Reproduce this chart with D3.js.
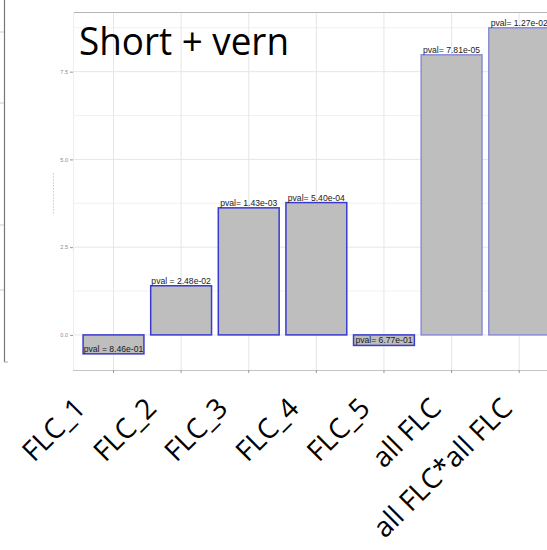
<!DOCTYPE html>
<html>
<head>
<meta charset="utf-8">
<script src="https://cdn.jsdelivr.net/npm/d3@7/dist/d3.min.js"></script>
<style>
  html, body { margin: 0; padding: 0; background: #fff; }
  svg { display: block; }
  .pval, .ytick { font-family: "Liberation Sans", Arial, sans-serif; }
  .title, .xlab { font-family: "Open Sans", "Noto Sans", sans-serif; }
</style>
</head>
<body>
<svg id="chart" width="547" height="550"></svg>
<script>
// ---- data ----
const categories = ["FLC_1", "FLC_2", "FLC_3", "FLC_4", "FLC_5", "all FLC", "all FLC*all FLC"];
const values = [-0.54, 1.40, 3.62, 3.77, -0.30, 7.98, 8.75];
const pvalLabels = ["pval = 8.46e-01", "pval = 2.48e-02", "pval= 1.43e-03", "pval= 5.40e-04",
                    "pval= 6.77e-01", "pval= 7.81e-05", "pval= 1.27e-02"];
const yTicks = [0, 2.5, 5, 7.5];
const yTickLabels = ["0.0", "2.5", "5.0", "7.5"];
const yMinor = [1.25, 3.75, 6.25, 8.75];
const titleText = "Short + vern";

const svg = d3.select("#chart");

// panel geometry
const panelLeft = 73, panelTop = 12, panelBottom = 370;

const x = d3.scaleBand()
  .domain(categories)
  .range([79.7, 553])
  .paddingInner(0.1)
  .paddingOuter(0.05);

const y = d3.scaleLinear().domain([-1.0, 9.2]).range([panelBottom, panelTop]);

// label placement scale (slide text labels beneath the axis)
const xLab = d3.scalePoint().domain(categories).range([87, 514]);

// ---- remnants of neighbouring panel on the far left ----
svg.append("line").attr("x1", 4.5).attr("x2", 4.5).attr("y1", 0).attr("y2", 362)
  .attr("stroke", "#777").attr("stroke-width", 1.2);
const stubs = [32, 103, 225, 290];
svg.selectAll("line.stub").data(stubs).join("line").attr("class", "stub")
  .attr("x1", 0).attr("x2", 4).attr("y1", d => d).attr("y2", d => d)
  .attr("stroke", "#ccc");
svg.append("line").attr("x1", 4).attr("x2", 8).attr("y1", 362).attr("y2", 362).attr("stroke", "#aaa");

// ---- grid ----
const grid = svg.append("g");
grid.selectAll("line.minor").data(yMinor).join("line").attr("class", "minor")
  .attr("x1", panelLeft).attr("x2", 547)
  .attr("y1", d => y(d)).attr("y2", d => y(d))
  .attr("stroke", "#f1f1f1").attr("stroke-width", 1);
grid.selectAll("line.major").data(yTicks).join("line").attr("class", "major")
  .attr("x1", panelLeft).attr("x2", 547)
  .attr("y1", d => y(d)).attr("y2", d => y(d))
  .attr("stroke", "#e6e6e6").attr("stroke-width", 1);
grid.selectAll("line.vx").data(categories).join("line").attr("class", "vx")
  .attr("x1", d => x(d) + x.bandwidth() / 2).attr("x2", d => x(d) + x.bandwidth() / 2)
  .attr("y1", panelTop).attr("y2", panelBottom)
  .attr("stroke", "#e6e6e6").attr("stroke-width", 1);

// panel frame: top line and faint left edge
svg.append("line").attr("x1", panelLeft).attr("x2", 547).attr("y1", panelTop + 0.5).attr("y2", panelTop + 0.5)
  .attr("stroke", "#b5b5b5").attr("stroke-width", 1);
svg.append("line").attr("x1", panelLeft + 0.5).attr("x2", panelLeft + 0.5).attr("y1", panelTop).attr("y2", panelBottom)
  .attr("stroke", "#eeeeee").attr("stroke-width", 1);

// ---- bars ----
svg.selectAll("rect.bar").data(values).join("rect").attr("class", "bar")
  .attr("x", (d, i) => x(categories[i]))
  .attr("width", x.bandwidth())
  .attr("y", d => y(Math.max(0, d)))
  .attr("height", d => Math.abs(y(d) - y(0)))
  .attr("fill", "#bebebe")
  .attr("stroke", (d, i) => i >= 5 ? "#8c8cd8" : "#3a3ad0")
  .attr("stroke-width", 1.5);

// ---- p-value labels ----
svg.selectAll("text.pval").data(values).join("text").attr("class", "pval")
  .attr("x", (d, i) => x(categories[i]) + x.bandwidth() / 2)
  .attr("y", d => d >= 0 ? y(d) - 1.5 : y(d) - 2)
  .attr("text-anchor", "middle")
  .attr("font-size", 8.6)
  .attr("fill", "#1a1a1a")
  .text((d, i) => pvalLabels[i]);

// ---- x axis line and ticks ----
const xAxis = svg.append("g").attr("transform", `translate(0,${panelBottom})`)
  .call(d3.axisBottom(x).tickSize(3).tickFormat(""));
xAxis.select(".domain").attr("stroke", "#c4c4c4").attr("d", `M${panelLeft},0.5H547`);
xAxis.selectAll(".tick line").attr("stroke", "#9a9a9a");

// ---- y axis ticks (tiny) ----
const yAxis = svg.append("g").attr("transform", `translate(${panelLeft},0)`)
  .call(d3.axisLeft(y).tickValues(yTicks).tickSize(3).tickPadding(2)
    .tickFormat((d, i) => yTickLabels[i]));
yAxis.select(".domain").remove();
yAxis.selectAll(".tick line").attr("stroke", "#999");
yAxis.selectAll(".tick text").attr("class", "ytick").attr("fill", "#8a8a8a").attr("font-size", 5.5)
  .attr("font-family", null);

// faint y-axis title remnant
svg.append("line").attr("x1", 53.5).attr("x2", 53.5).attr("y1", y(4.6)).attr("y2", y(3.4))
  .attr("stroke", "#999").attr("stroke-width", 0.8).attr("stroke-dasharray", "1,2");

// ---- title ----
svg.append("text").attr("class", "title")
  .attr("x", 79).attr("y", 55)
  .attr("font-size", 38)
  .attr("textLength", 210)
  .attr("lengthAdjust", "spacingAndGlyphs")
  .attr("fill", "#000")
  .text(titleText);

// ---- rotated category labels ----
svg.selectAll("text.xlab").data(categories).join("text").attr("class", "xlab")
  .attr("transform", d => `translate(${xLab(d)},410) rotate(-45)`)
  .attr("text-anchor", "end")
  .attr("font-size", 28)
  .attr("fill", "#000")
  .text(d => d);
</script>
</body>
</html>
